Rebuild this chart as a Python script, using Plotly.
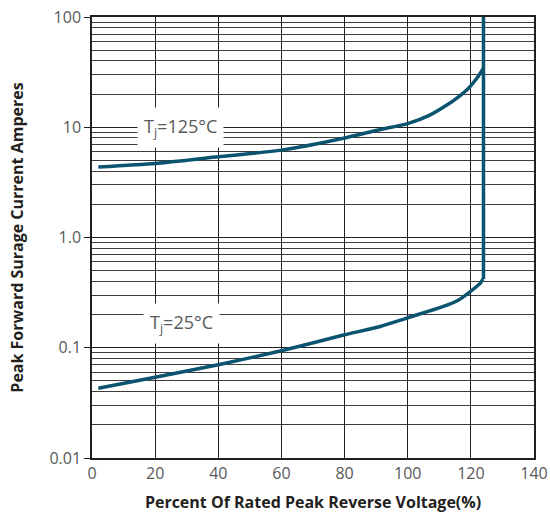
import numpy as np
import plotly.graph_objects as go

# 125°C curve (percent of rated PRV, amperes)
x_125 = [2, 20, 40, 60, 80, 91, 100, 107, 112.4, 116, 119.2, 121.9, 124]
y_125 = [4.37, 4.7, 5.4, 6.2, 8.0, 9.5, 10.8, 12.9, 15.9, 18.8, 22.5, 27.8, 34.3]

# 25°C curve
x_25 = [2, 20, 40, 60, 80, 91.3, 99, 111.3, 116, 119.2, 123, 123.8]
y_25 = [0.043, 0.054, 0.070, 0.094, 0.131, 0.156, 0.183, 0.237, 0.27, 0.313, 0.385, 0.42]

# vertical breakdown line
x_break = [124, 124]
y_break = [0.42, 100]

x_ticks = [0, 20, 40, 60, 80, 100, 120, 140]
y_tickvals = [0.01, 0.1, 1, 10, 100]
y_ticktext = ["0.01", "0.1", "1.0", "10", "100"]

labels = ["T<sub>j</sub>=125°C", "T<sub>j</sub>=25°C"]
label_x = [28, 28.5]
label_y = [10, 0.165]

line_color = "#0b5470"
grid_color = "#231f20"
font_family = "Open Sans, Noto Sans, sans-serif"

fig = go.Figure()
for xs, ys in [(x_125, y_125), (x_25, y_25), (x_break, y_break)]:
    fig.add_trace(go.Scatter(x=xs, y=ys, mode="lines",
                             line=dict(color=line_color, width=3.5, shape="spline", smoothing=0.6),
                             showlegend=False, hoverinfo="skip", cliponaxis=False))

for t, lx, ly in zip(labels, label_x, label_y):
    fig.add_annotation(x=lx, y=np.log10(ly), xref="x", yref="y", text=t,
                       showarrow=False, bgcolor="white", borderpad=6,
                       font=dict(family=font_family, size=18, color="#58595b"))

fig.update_layout(
    width=550, height=515,
    margin=dict(l=92, r=16, t=17, b=57),
    plot_bgcolor="white", paper_bgcolor="white",
    font=dict(family=font_family),
    xaxis=dict(range=[0, 140], tickvals=x_ticks, showgrid=True, automargin=False,
               gridcolor=grid_color, gridwidth=1, zeroline=False,
               showline=True, linecolor=grid_color, linewidth=1.5, mirror=True,
               ticks="", tickfont=dict(size=16, color="#58595b"),
               title=dict(text="<b>Percent Of Rated Peak Reverse Voltage(%)</b>",
                          font=dict(size=16, color="#231f20"), standoff=14)),
    yaxis=dict(type="log", range=[-2, 2], tickvals=y_tickvals, ticktext=y_ticktext,
               automargin=False,
               showgrid=True, gridcolor=grid_color, gridwidth=1, zeroline=False,
               showline=True, linecolor=grid_color, linewidth=1.5, mirror=True,
               ticks="outside", ticklen=6, tickcolor=grid_color,
               tickfont=dict(size=16, color="#58595b"),
               minor=dict(dtick="D1", showgrid=True, gridcolor="#3e3a3a", gridwidth=1),
               title=dict(text="<b>Peak Forward Surage Current Amperes</b>",
                          font=dict(size=16, color="#231f20"), standoff=22)),
)

fig.write_html("out.html", config={"displayModeBar": False},
               post_script="document.body.style.margin='0px';document.body.style.overflow='hidden';")
